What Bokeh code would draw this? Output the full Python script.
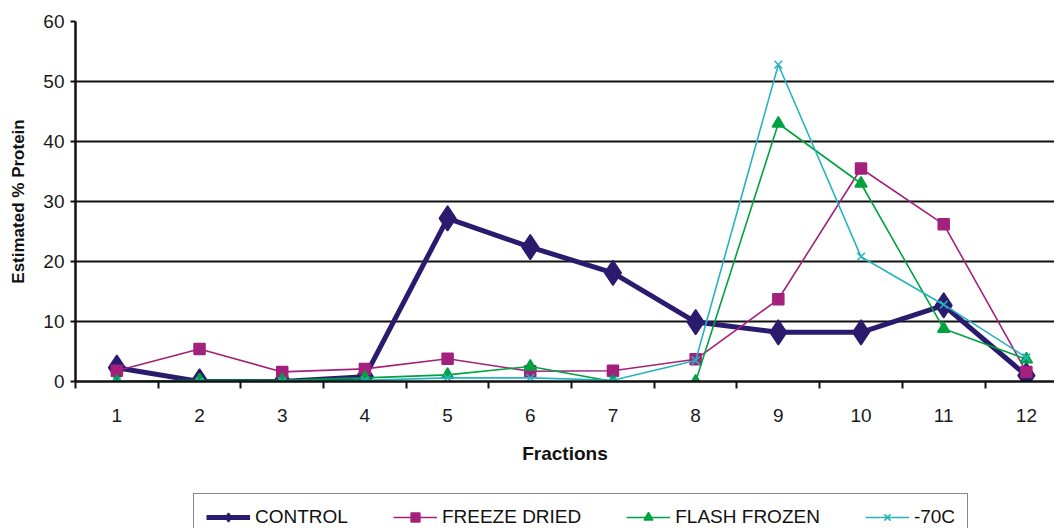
from bokeh.plotting import figure
from bokeh.layouts import column
from bokeh.models import FixedTicker, Legend, LegendItem
from bokeh.embed import file_html
from bokeh.resources import INLINE

fractions = [1, 2, 3, 4, 5, 6, 7, 8, 9, 10, 11, 12]
tick_labels = ["1", "2", "3", "4", "5", "6", "7", "8", "9", "10", "11", "12"]
control = [2.3, 0.0, 0.0, 0.8, 27.2, 22.4, 18.1, 9.9, 8.2, 8.2, 12.7, 1.0]
freeze_dried = [1.8, 5.4, 1.6, 2.1, 3.8, 1.7, 1.8, 3.7, 13.7, 35.5, 26.2, 1.6]
flash_frozen = [0.0, 0.2, 0.2, 0.6, 1.1, 2.5, 0.0, 0.0, 43.0, 33.0, 8.8, 3.7]
minus70 = [0.0, 0.0, 0.0, 0.2, 0.6, 0.6, 0.2, 3.5, 52.8, 20.8, 12.8, 4.0]
series_names = ["CONTROL", "FREEZE DRIED", "FLASH FROZEN", "-70C"]
y_ticks = [0, 10, 20, 30, 40, 50, 60]

FONT = "Liberation Sans"

p = figure(width=1054, height=480, output_backend="svg", toolbar_location=None,
           x_range=(0.5, 12.34), y_range=(0, 60),
           min_border_left=75, min_border_right=0, min_border_top=21, min_border_bottom=99)
p.outline_line_color = None
p.xgrid.grid_line_color = None
p.ygrid.grid_line_color = "#111111"
p.ygrid.grid_line_width = 2
p.ygrid.ticker = FixedTicker(ticks=y_ticks)

# x axis
p.xaxis.ticker = FixedTicker(ticks=fractions, minor_ticks=[f - 0.5 for f in fractions] + [12.5])
p.xaxis.major_label_overrides = {f: t for f, t in zip(fractions, tick_labels)}
p.xaxis.major_tick_line_color = None
p.xaxis.major_tick_out = 0
p.xaxis.major_tick_in = 0
p.xaxis.minor_tick_line_color = "#111111"
p.xaxis.minor_tick_line_width = 2
p.xaxis.minor_tick_out = 7
p.xaxis.minor_tick_in = 0
p.xaxis.major_label_standoff = 20
p.xaxis.axis_line_color = "#111111"
p.xaxis.axis_line_width = 2.5
p.xaxis.axis_label = "Fractions"
p.xaxis.axis_label_standoff = 18
p.xaxis.axis_label_text_font = FONT
p.xaxis.axis_label_text_font_size = "19px"
p.xaxis.axis_label_text_font_style = "bold"
p.xaxis.axis_label_text_color = "#111111"

# y axis
p.yaxis.ticker = FixedTicker(ticks=y_ticks)
p.yaxis.major_tick_line_color = "#111111"
p.yaxis.major_tick_line_width = 2
p.yaxis.major_tick_out = 5
p.yaxis.major_tick_in = 0
p.yaxis.minor_tick_line_color = None
p.yaxis.major_label_standoff = 6
p.yaxis.axis_line_color = "#111111"
p.yaxis.axis_line_width = 2.5
p.yaxis.axis_label = "Estimated % Protein"
p.yaxis.axis_label_standoff = 12
p.yaxis.axis_label_text_font = FONT
p.yaxis.axis_label_text_font_size = "17px"
p.yaxis.axis_label_text_font_style = "bold"
p.yaxis.axis_label_text_color = "#111111"

for ax in (p.xaxis, p.yaxis):
    ax.major_label_text_font = FONT
    ax.major_label_text_font_size = "19px"
    ax.major_label_text_color = "#1a1a1a"

styles = [
    ("#2B1B6E", 5, "diamond", 25),
    ("#A3217D", 1.6, "square", 11),
    ("#00A23F", 1.6, "triangle", 12),
    ("#26B3C0", 1.6, "x", 11),
]
values = [control, freeze_dried, flash_frozen, minus70]

# legend strip below the chart (its data lies outside its ranges, only the legend shows)
p2 = figure(width=1054, height=48, output_backend="svg", toolbar_location=None,
            x_range=(-3, -2), y_range=(-3, -2), x_axis_type=None, y_axis_type=None,
            min_border=0, min_border_left=75, min_border_right=0,
            min_border_top=0, min_border_bottom=0)
p2.outline_line_color = None
p2.grid.visible = False

items = []
for name, vals, (color, lw, marker, size) in zip(series_names, values, styles):
    p.line(fractions, vals, line_color=color, line_width=lw)
    p.scatter(fractions, vals, marker=marker, size=size, fill_color=color,
              line_color=color, line_width=1.5)
    l2 = p2.line(fractions, vals, line_color=color, line_width=lw)
    s2 = p2.scatter(fractions, vals, marker=marker, size=size, fill_color=color,
                    line_color=color, line_width=1.5)
    items.append(LegendItem(label=name, renderers=[l2, s2]))

legend = Legend(items=items, orientation="horizontal", location=(118, -13),
                label_text_font=FONT, label_text_font_size="19px", label_text_color="#111111",
                glyph_width=44, glyph_height=22, label_standoff=5, spacing=45,
                padding=12, margin=0, border_line_color="#111111", border_line_width=1.5,
                background_fill_color="white", background_fill_alpha=1)
p2.add_layout(legend, "center")

layout = column(p, p2, spacing=0)
open("out.html", "w").write(file_html(layout, INLINE))
